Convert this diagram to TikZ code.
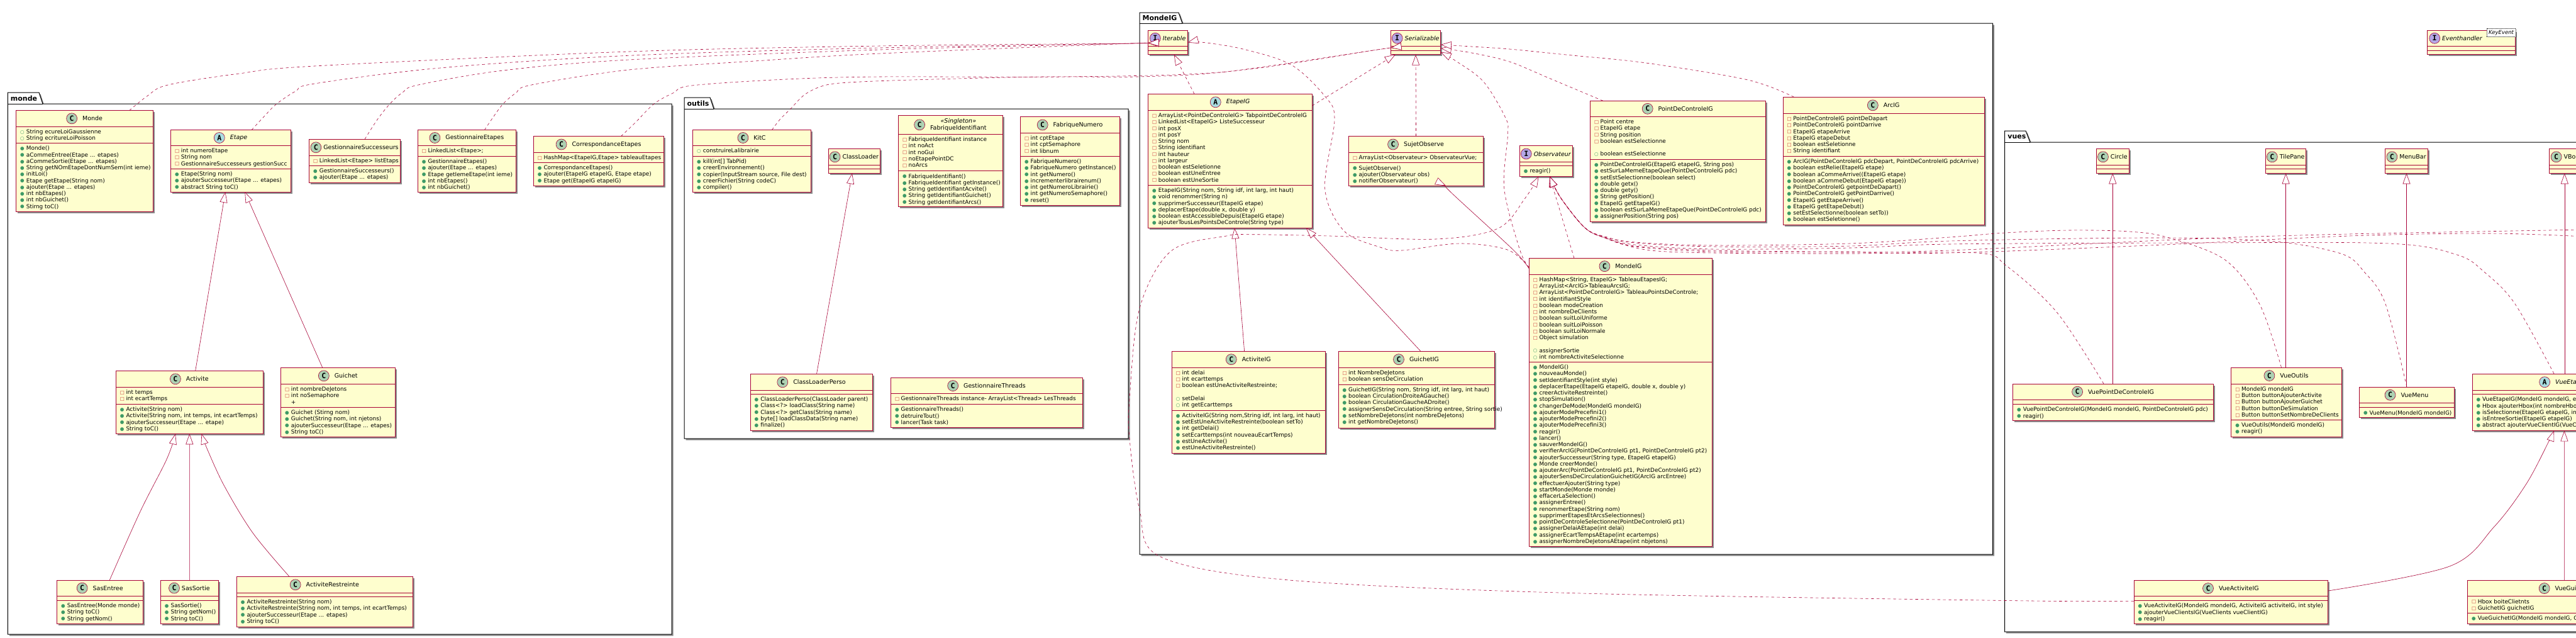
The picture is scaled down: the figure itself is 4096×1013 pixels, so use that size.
\documentclass[tikz,border=0pt]{standalone}
\usepackage{fontspec}
\setmainfont{DejaVu Sans}
\newfontfamily\iconfont{DejaVu Sans Mono}
\usetikzlibrary{arrows.meta,positioning,shadows}

\definecolor{umlred}{HTML}{A80036}
\definecolor{umlfill}{HTML}{FEFECE}
\definecolor{circC}{HTML}{ADD1B2}
\definecolor{circA}{HTML}{A9DCDF}
\definecolor{circI}{HTML}{B4A7E5}
\definecolor{pubgreen}{HTML}{3E9A66}
\definecolor{privred}{HTML}{C82930}

\newcommand{\memfont}{\fontsize{8.9}{10.25}\selectfont}
\newcommand{\rowicon}[2]{\strut\makebox[9.7pt][l]{\raisebox{.3pt}{\fontsize{7.5}{7.5}\selectfont\textcolor{#1}{#2}}}}
\newcommand{\mpub}{\rowicon{pubgreen}{●}}
\newcommand{\mpriv}{\rowicon{privred}{□}}
\newcommand{\mfield}{\rowicon{pubgreen}{○}}

\tikzset{
  pkgbox/.style={draw=black,fill=white,line width=1pt,drop shadow={shadow xshift=2.5pt,shadow yshift=-2.5pt,opacity=.45,fill=black}},
  pkgname/.style={anchor=west,inner sep=0pt,font=\fontsize{11}{11}\selectfont\bfseries},
  classbox/.style={draw=umlred,fill=umlfill,line width=1pt,inner sep=0pt,outer sep=0pt,drop shadow={shadow xshift=2.5pt,shadow yshift=-2.5pt,opacity=.45,fill=black}},
  classline/.style={draw=umlred,line width=1pt},
  members/.style={anchor=north west,inner sep=0pt,align=left,font=\memfont,xshift=6.3pt,yshift=-4pt},
  titleC/.style={inner sep=0pt,align=center,font=\fontsize{9.5}{11.7}\selectfont},
  titleA/.style={titleC,font=\fontsize{9.5}{11.7}\selectfont\itshape},
  titleI/.style={titleA},
  iconC/.style={circle,draw=umlred,line width=.6pt,minimum size=17pt,inner sep=0pt,fill=circC,font=\fontsize{11.5}{11.5}\selectfont\iconfont\bfseries},
  iconA/.style={iconC,fill=circA},
  iconI/.style={iconC,fill=circI},
  tagbox/.style={draw=black,fill=white,dashed,dash pattern=on 1pt off 1pt,line width=.5pt,inner sep=0pt,minimum width=46pt,minimum height=13.7pt,font=\fontsize{8.5}{8.5}\selectfont\itshape},
  extends/.style={draw=umlred,line width=.6pt,-{Triangle[length=17pt,width=12pt,fill=white]}},
  realizes/.style={extends,dash pattern=on 4.4pt off 4.4pt},
}

% name (x1,y1,x2,y2) (first line,second line) [C, A or I] title
\def\tgap{8}
\def\tshift{0}
\def\umlclass#1(#2,#3,#4,#5)(#6,#7)[#8]#9{%
  \node[classbox,minimum width=#4-#2,minimum height=#5-#3] (#1) at ({(#2+#4)/2},{(#3+#5)/2}) {};
  \draw[classline] (#2,#6) -- (#4,#6) (#2,#7) -- (#4,#7);
  \node[title#8] (#1Title) at ({(#2+#4)/2+(17+\tgap)/2+\tshift},{(#3+#6)/2}) {#9};
  \node[icon#8,left=\tgap pt of #1Title] (#1Icon) {#8};
  \coordinate (#1A) at (#2,#6);
  \coordinate (#1M) at (#2,#7);
}
\newcommand{\attrs}[2]{\node[members] (#1Attrs) at (#1A) {#2};}
\newcommand{\meths}[2]{\node[members] (#1Meths) at (#1M) {#2};}
\newcommand{\umlpackage}[9]{%
  \draw[pkgbox] (#2,#6) -- (#2,#3) -- (#4,#3) -- (#5,#6) -- (#7,#6) -- (#7,#8) -- (#2,#8) -- cycle;
  \draw[line width=1pt] (#2,#6) -- (#5,#6);
  \node[pkgname] (#1) at (#2+4.4,{(#3+#6)/2}) {#9};
}

\begin{document}
\begin{tikzpicture}[x=1pt,y=-1pt,smooth,tension=.55]
  \clip[use as bounding box] (0,0) rectangle (4096,1013);

  % packages
  \umlpackage{pkgMonde}{12.3}{147}{62}{68}{165}{1068}{1008}{monde}
  \umlpackage{pkgOutils}{1088}{155}{1129}{1135}{173}{1794}{697}{outils}
  \umlpackage{pkgMondeIG}{1812}{20}{1874}{1880}{37}{3168.6}{881}{MondeIG}
  \umlpackage{pkgVues}{3187.7}{208}{3221}{3228}{226}{4200}{1004}{vues}

  % monde
  \umlclass{monde}(25.7,175.7,243.5,336)(201,227.5)[C]{Monde}
  \attrs{monde}{\mfield String ecureLoiGaussienne\\\mfield String ecritureLoiPoisson}
  \meths{monde}{\mpub Monde()\\\mpub aCommeEntree(Etape ... etapes)\\\mpub aCommeSortie(Etape ... etapes)\\\mpub String getNOmEtapeDontNumSem(int ieme)\\\mpub initLoi()\\\mpub Etape getEtape(String nom)\\\mpub ajouter(Etape ... etapes)\\\mpub int nbEtapes()\\\mpub int nbGuichet()\\\mpub Stirng toC()}

  \umlclass{etape}(271.7,206.7,462.3,305)(231.3,268.3)[A]{Etape}
  \attrs{etape}{\mpriv int numeroEtape\\\mpriv String nom\\\mpriv GestionnaireSuccesseurs gestionSucc}
  \meths{etape}{\mpub Etape(String nom)\\\mpub ajouterSuccesseur(Etape ... etapes)\\\mpub abstract String toC()}

  \umlclass{gestEtapes}(664.3,206.7,820.3,305)(231.3,248.3)[C]{GestionnaireEtapes}
  \attrs{gestEtapes}{\mpriv LinkedList<Etape>;}
  \meths{gestEtapes}{\mpub GestionnaireEtapes()\\\mpub ajouter(Etape ... etapes)\\\mpub Etape getIemeEtape(int ieme)\\\mpub int nbEtapes()\\\mpub int nbGuichet()}

  \umlclass{correspondance}(848.3,216.7,1055.7,295.3)(242.3,258.3)[C]{CorrespondanceEtapes}
  \attrs{correspondance}{\mpriv HashMap<EtapeIG,Etape> tableauEtapes}
  \meths{correspondance}{\mpub CorrespondanceEtapes()\\\mpub ajouter(EtapeIG etapeIG, Etape etape)\\\mpub Etape get(EtapeIG etapeIG)}

  \umlclass{activite}(184.3,589.3,418.3,689.3)(615.3,642.3)[C]{Activite}
  \attrs{activite}{\mpriv int temps\\\mpriv int ecartTemps}
  \meths{activite}{\mpub Activite(String nom)\\\mpub Activite(String nom, int temps, int ecartTemps)\\\mpub ajouterSuccesseur(Etape ... etape)\\\mpub String toC()}

  \umlclass{guichet}(446.7,584.3,628.8,694.3)(610.3,647.3)[C]{Guichet}
  \attrs{guichet}{\mpriv int nombreDeJetons\\\mpriv int noSemaphore\\\strut\hspace{9.7pt}+}
  \meths{guichet}{\mpub Guichet (Stirng nom)\\\mpub Guichet(String nom, int njetons)\\\mpub ajouterSuccesseur(Etape ... etapes)\\\mpub String toC()}

  \umlclass{sasEntree}(90.6,922.3,227.7,991.7)(947,954.3)[C]{SasEntree}
  \meths{sasEntree}{\mpub SasEntree(Monde monde)\\\mpub String toC()\\\mpub String getNom()}

  \umlclass{restreinte}(376.3,916.3,656.3,996.3)(942.3,948.3)[C]{ActiviteRestreinte}
  \meths{restreinte}{\mpub ActiviteRestreinte(String nom)\\\mpub ActiviteRestreinte(String nom, int temps, int ecartTemps)\\\mpub ajouterSuccesseur(Etape ... etapes)\\\mpub String toC()}

  % outils
  \umlclass{kitC}(1101.7,206.7,1289.3,305)(231.3,248.3)[C]{KitC}
  \attrs{kitC}{\mfield construireLalibrairie}
  \meths{kitC}{\mpub kill(int[] TabPid)\\\mpub creerEnvironnement()\\\mpub copier(InputStream source, File dest)\\\mpub creerFichier(String codeC)\\\mpub compiler()}

  \umlclass{fabriqueId}(1428.5,183.3,1594.2,328.3)(213.3,271.7)[C]{{\itshape «Singleton»}\\FabriqueIdentifiant}
  \attrs{fabriqueId}{\mpriv FabriqueIdentifiant instance\\\mpriv int noAct\\\mpriv int noGui\\\mpriv noEtapePointDC\\\mpriv noArcs}
  \meths{fabriqueId}{\mpub FabriqueIdentifiant()\\\mpub FabriqueIdentifiant getInstance()\\\mpub String getIdentifiantAcvite()\\\mpub String getIdentifiantGuichet()\\\mpub String getIdentifiantArcs()}

  \umlclass{fabriqueNum}(1622.5,185.7,1780.5,326)(211.3,248.3)[C]{FabriqueNumero}
  \attrs{fabriqueNum}{\mpriv int cptEtape\\\mpriv int cptSemaphore\\\mpriv int libnum}
  \meths{fabriqueNum}{\mpub FabriqueNumero()\\\mpub FabriqueNumero getInstance()\\\mpub int getNumero()\\\mpub incrementerlibrairenum()\\\mpub int getNumeroLibrairie()\\\mpub int getNumeroSemaphore()\\\mpub reset()}

  \umlclass{loaderPerso}(1193.2,594.3,1387.8,684.2)(620.3,626.3)[C]{ClassLoaderPerso}
  \meths{loaderPerso}{\mpub ClassLoaderPerso(ClassLoader parent)\\\mpub Class<?> loadClass(String name)\\\mpub Class<?> getClass(String name)\\\mpub byte[] loadClassData(String name)\\\mpub finalize()}

  \umlclass{threads}(1416.5,600.5,1721.4,679.1)(625.6,642.4)[C]{GestionnaireThreads}
  \attrs{threads}{\mpriv GestionnaireThreads instance- ArrayList<Thread> LesThreads}
  \meths{threads}{\mpub GestionnaireThreads()\\\mpub detruireTout()\\\mpub lancer(Task task)}

  % MondeIG
  \umlclass{etapeIG}(1825.7,149.3,2086.4,362.3)(175.3,294.3)[A]{EtapeIG}
  \attrs{etapeIG}{\mpriv ArrayList<PointDeControleIG> TabpointDeControleIG\\\mpriv LinkedList<EtapeIG> ListeSuccesseur\\\mpriv int posX\\\mpriv int posY\\\mpriv String nom\\\mpriv String identifiant\\\mpriv int hauteur\\\mpriv int largeur\\\mpriv boolean estSeletionne\\\mpriv boolean estUneEntree\\\mpriv boolean estUneSortie}
  \meths{etapeIG}{\mpub EtapeIG(String nom, String idf, int larg, int haut)\\\mpub void renommer(String n)\\\mpub supprimerSuccesseur(EtapeIG etape)\\\mpub deplacerEtape(double x, double y)\\\mpub boolean estAccessibleDepuis(EtapeIG etape)\\\mpub ajouterTousLesPointsDeControle(String type)}

  \umlclass{sujet}(2144.5,216.7,2358.5,295.3)(242.3,258.7)[C]{SujetObserve}
  \attrs{sujet}{\mpriv ArrayList<Observateur> ObservateurVue;}
  \meths{sujet}{\mpub SujetObserve()\\\mpub ajouter(Observateur obs)\\\mpub notifierObservateur()}

  \umlclass{pdc}(2528.5,160.3,2807,352.3)(185.3,253.3)[C]{PointDeControleIG}
  \attrs{pdc}{\mpriv Point centre\\\mpriv EtapeIG etape\\\mpriv String position\\\mpriv boolean estSelectionne\\\strut\\\mfield boolean estSelectionne}
  \meths{pdc}{\mpub PointDeControleIG(EtapeIG etapeIG, String pos)\\\mpub estSurLaMemeEtapeQue(PointDeControleIG pdc)\\\mpub setEstSelectionne(boolean select)\\\mpub double getx()\\\mpub double gety()\\\mpub String getPosition()\\\mpub EtapeIG getEtapeIG()\\\mpub boolean estSurLaMemeEtapeQue(PointDeControleIG pdc)\\\mpub assignerPosition(String pos)}

  \umlclass{arcIG}(2835.2,154.3,3155,357.3)(180.3,248.3)[C]{ArcIG}
  \attrs{arcIG}{\mpriv PointDeControleIG pointDeDapart\\\mpriv PointDeControleIG pointDarrive\\\mpriv EtapeIG etapeArrive\\\mpriv EtapeIG etapeDebut\\\mpriv boolean estSeletionne\\\mpriv String identifiant}
  \meths{arcIG}{\mpub ArcIG(PointDeControleIG pdcDepart, PointDeControleIG pdcArrive)\\\mpub boolean estRelie(EtapeIG etape)\\\mpub boolean aCommeArrive((EtapeIG etape)\\\mpub boolean aCommeDebut(EtapeIG etape))\\\mpub PointDeControleIG getpointDeDapart()\\\mpub PointDeControleIG getPointDarrive()\\\mpub EtapeIG getEtapeArrive()\\\mpub EtapeIG getEtapeDebut()\\\mpub setEstSelectionne(boolean setTo))\\\mpub boolean estSeletionne()}

  \umlclass{mondeIG}(2431.4,410.3,2722.5,868.4)(436,575.2)[C]{MondeIG}
  \attrs{mondeIG}{\mpriv HashMap<String, EtapeIG> TableauEtapesIG;\\\mpriv ArrayList<ArcIG>TableauArcsIG;\\\mpriv ArrayList<PointDeControleIG> TableauPointsDeControle;\\\mpriv int identifiantStyle\\\mpriv boolean modeCreation\\\mpriv int nombreDeClients\\\mpriv boolean suitLoiUniforme\\\mpriv boolean suitLoiPoisson\\\mpriv boolean suitLoiNormale\\\mpriv Object simulation\\\strut\\\mfield assignerSortie\\\mfield int nombreActiviteSelectionne}
  \meths{mondeIG}{\mpub MondeIG()\\\mpub nouveauMonde()\\\mpub setIdentifiantStyle(int style)\\\mpub deplacerEtape(EtapeIG etapeIG, double x, double y)\\\mpub creerActiviteRestreinte()\\\mpub stopSimulation()\\\mpub changerDeMode(MondeIG mondeIG)\\\mpub ajouterModePrecefini1()\\\mpub ajouterModePrecefini2()\\\mpub ajouterModePrecefini3()\\\mpub reagir()\\\mpub lancer()\\\mpub sauverMondeIG()\\\mpub verifierArcIG(PointDeControleIG pt1, PointDeControleIG pt2)\\\mpub ajouterSuccesseur(String type, EtapeIG etapeIG)\\\mpub Monde creerMonde()\\\mpub ajouterArc(PointDeControleIG pt1, PointDeControleIG pt2)\\\mpub ajouterSensDeCirculationGuichetIG(ArcIG arcEntree)\\\mpub effectuerAjouter(String type)\\\mpub startMonde(Monde monde)\\\mpub effacerLaSelection()\\\mpub assignerEntree()\\\mpub renommerEtape(String nom)\\\mpub supprimerEtapesEtArcsSelectionnes()\\\mpub pointDeControleSelectionne(PointDeControleIG pt1)\\\mpub assignerDelaiAEtape(int delai)\\\mpub assignerEcartTempsAEtape(int ecartemps)\\\mpub assignerNombreDeJetonsAEtape(int nbjetons)}

  \umlclass{activiteIG}(1863.4,558.3,2107,720.6)(584.1,652.1)[C]{ActiviteIG}
  \attrs{activiteIG}{\mpriv int delai\\\mpriv int ecarttemps\\\mpriv boolean estUneActiviteRestreinte;\\\strut\\\mfield setDelai\\\mfield int getEcarttemps}
  \meths{activiteIG}{\mpub ActiviteIG(String nom,String idf, int larg, int haut)\\\mpub setEstUneActiviteRestreinte(boolean setTo)\\\mpub int getDelai()\\\mpub setEcarttemps(int nouveauEcartTemps)\\\mpub estUneActivite()\\\mpub estUneActiviteRestreinte()}

  \umlclass{guichetIG}(2128,558.3,2376,680)(584.1,611)[C]{GuichetIG}
  \attrs{guichetIG}{\mpriv int NombreDeJetons\\\mpriv boolean sensDeCirculation}
  \meths{guichetIG}{\mpub GuichetIG(String nom, String idf, int larg, int haut)\\\mpub boolean CirculationDroiteAGauche()\\\mpub boolean CirculationGaucheADroite()\\\mpub assignerSensDeCirculation(String entree, String sortie)\\\mpub setNombreDeJetons(int nombreDeJetons)\\\mpub int getNombreDeJetons()}

  % vues
  \umlclass{vuePdc}(3200.6,610,3519.4,668.4)(635.4,642.6)[C]{VuePointDeControleIG}
  \meths{vuePdc}{\mpub VuePointDeControleIG(MondeIG mondeIG, PointDeControleIG pdc)\\\mpub reagir()}

  \umlclass{vueOutils}(3547.9,584,3723,694.6)(610,667)[C]{VueOutils}
  \attrs{vueOutils}{\mpriv MondeIG mondeIG\\\mpriv Button buttonAjouterActivite\\\mpriv Button buttonAjouterGuichet\\\mpriv Button buttonDeSimulation\\\mpriv Button buttonSetNombreDeClients}
  \meths{vueOutils}{\mpub VueOutils(MondeIG mondeIG)\\\mpub reagir()}

  \umlclass{vueMenu}(3751.5,615,3902.3,663.3)(640.5,647.7)[C]{VueMenu}
  \meths{vueMenu}{\mpub VueMenu(MondeIG mondeIG)}

  \umlclass{vueActivite}(3393,922.5,3701.6,991.6)(947.7,954.5)[C]{VueActiviteIG}
  \meths{vueActivite}{\mpub VueActiviteIG(MondeIG mondeIG, ActiviteIG activiteIG, int style)\\\mpub ajouterVueClientsIG(VueClients vueClientIG)\\\mpub reagir()}

  % these run past the right edge, only what is seen of them
  \def\tshift{-12.5}
  \umlclass{vueEtape}(3931,594,4229,684.4)(620.5,626.6)[A]{VueEta}
  \meths{vueEtape}{\mpub VueEtapeIG(MondeIG mondeIG, e\\\mpub Hbox ajouterHbox(int nombreHbo\\\mpub isSelectionne(EtapeIG etapeIG, in\\\mpub isEntreeSortie(EtapeIG etapeIG)\\\mpub abstract ajouterVueClientIG(VueC}
  \def\tshift{-19.8}
  \umlclass{vueGuichet}(3923.6,922.5,4250,991.6)(947.7,974.2)[C]{VueGui}
  \attrs{vueGuichet}{\mpriv Hbox boiteClietnts\\\mpriv GuichetIG guichetIG}
  \meths{vueGuichet}{\mpub VueGuichetIG(MondeIG mondeIG, G}
  \def\tshift{0}

  % classes as narrow as their title
  \def\tgap{3}
  \umlclass{sasSortie}(255.4,922.3,347.3,991.7)(947,954.3)[C]{SasSortie}
  \meths{sasSortie}{\mpub SasSortie()\\\mpub String getNom()\\\mpub String toC()}
  \umlclass{gestSucc}(491.7,221.3,636.3,290)(247.3,263.3)[C]{GestionnaireSuccesseurs}
  \attrs{gestSucc}{\mpriv LinkedList<Etape> listEtaps}
  \meths{gestSucc}{\mpub GestionnaireSuccesseurs()\\\mpub ajouter(Etape ... etapes)}
  \umlclass{classLoader}(1317.3,236.3,1399.3,275.3)(262.3,268.3)[C]{ClassLoader}
  \umlclass{iterable}(1825.7,48.3,1888.5,86.7)(73.3,80.3)[I]{Iterable}
  \umlclass{serial}(2211.5,48.3,2290.7,86.7)(73.3,80.3)[I]{Serializable}
  \umlclass{observateur}(2416.3,231.7,2500.3,280.3)(257.3,263.3)[I]{Observateur}
  \meths{observateur}{\mpub reagir()}
  \umlclass{circleCls}(3333.2,236.3,3385.3,275.3)(262.3,268.3)[C]{Circle}
  \umlclass{tilePane}(3602.5,236.3,3666.7,275.3)(262.3,268.3)[C]{TilePane}
  \umlclass{menuBar}(3792.5,236.3,3860.5,275.3)(262.3,268.3)[C]{MenuBar}
  \def\tshift{-1.8}
  \umlclass{vbox}(4053,236.3,4102.6,275.3)(262.3,268.3)[C]{VBo}
  \def\tshift{-24.5}
  \umlclass{eventHandler}(3859.8,48.3,3999,86.7)(73.3,80.3)[I]{Eventhandler}
  \node[tagbox] (eventKey) at (3977,51.8) {KeyEvent};

  % inherits, solid
  \draw[extends] ([xshift=9.4pt]activite.north) -- ([xshift=-8.7pt]etape.south);
  \draw[extends] ([xshift=-25pt]guichet.north) -- ([xshift=22.3pt]etape.south);
  \draw[extends] plot coordinates{([xshift=15pt]sasEntree.north) (223,813) (265,730) ([xshift=-22.3pt]activite.south)};
  \draw[extends] (sasSortie.north) -- (activite.south);
  \draw[extends] plot coordinates{([xshift=-56.3pt]restreinte.north) (402,847) (357,773) (330,715) ([xshift=19.2pt]activite.south)};
  \draw[extends] ([xshift=8pt]loaderPerso.north) -- ([xshift=-3.3pt]classLoader.south);
  \draw[extends] ([xshift=-6.6pt]activiteIG.north) -- ([xshift=7pt]etapeIG.south);
  \draw[extends] ([xshift=7pt]guichetIG.north) -- ([xshift=120.8pt]etapeIG.south);
  \draw[extends] plot coordinates{([yshift=-17pt]mondeIG.north west) (2407,398) (2309.5,308) ([xshift=47.5pt]sujet.south)};
  \draw[extends] (circleCls.south |- vuePdc.north) -- (circleCls.south);
  \draw[extends] (tilePane.south |- vueOutils.north) -- (tilePane.south);
  \draw[extends] (menuBar.south |- vueMenu.north) -- (menuBar.south);
  \draw[extends] (vbox.south |- vueEtape.north) -- (vbox.south);
  \draw[extends] plot coordinates{([yshift=18pt]vueActivite.east) (3895,900) (3966,837) (4017,769) (4053,701) ([xshift=-19pt]vueEtape.south)};
  \draw[extends] ([xshift=-9.4pt]vueGuichet.north) -- ([xshift=-2.6pt]vueEtape.south);

  % implements, dashed, towards Iterable
  \draw[realizes] plot coordinates{([xshift=71pt]monde.north) (235,152) (267,135) (380,117) (500,105) (1000,82) (1400,73) (1800,69) ([yshift=-1pt]iterable.west)};
  \draw[realizes] plot coordinates{([xshift=33pt]etape.north) (420,185) (440,165) (470,145) (500,133) (700,108) (1000,88.3) (1400,76) (1800,69) ([yshift=-1pt]iterable.west)};
  \draw[realizes] plot coordinates{([xshift=16pt]gestSucc.north) (600,190) (620,165) (640,147) (665,135) (800,112) (1000,95) (1400,79) (1800,69) ([yshift=-1pt]iterable.west)};
  \draw[realizes] plot coordinates{([xshift=28pt]gestEtapes.north) (785,185) (800,165) (820,148) (845,135) (1000,111) (1200,97) (1400,85) (1800,69) ([yshift=-1pt]iterable.west)};
  \draw[realizes] ([xshift=-57pt]etapeIG.north) -- ([xshift=9.7pt]iterable.south);
  \draw[realizes] plot coordinates{([yshift=-15pt]mondeIG.north west) (2397,397) (2321,387) (2229,398) (2194.7,393) (2137,367) (2106.7,300) (2122,190) (2106.7,153) (2053,103) (1976.5,78) (1910,67) (iterable.east)};

  % towards Serializable
  \draw[realizes] plot coordinates{([xshift=35.3pt]correspondance.north) (1010,195) (1040,165) (1070,148) (1100,136) (1250,126) (1400,122) (1700,122) (1950,114) (2190,79) ([yshift=-8.5pt]serial.west)};
  \draw[realizes] plot coordinates{([xshift=31.8pt]kitC.north) (1240,190) (1257,173) (1280,150) (1310,136) (1350,131) (1450,127) (1656,122) (1809,122) (1950,114) (2190,79) ([yshift=-8.5pt]serial.west)};
  \draw[realizes] ([yshift=-18.7pt]etapeIG.north east) -- ([xshift=-32.3pt]serial.south);
  \draw[realizes] (sujet.north) -- (serial.south);
  \draw[realizes] plot coordinates{([yshift=-15pt]mondeIG.north west) (2416.6,397) (2391.8,300) (2397.5,213) (2393.7,187) (2359,130) (2315,97) ([yshift=-15.2pt]serial.east)};
  \draw[realizes] plot coordinates{([xshift=-118.75pt]pdc.north) (2465,125) (2400,98) (2340,84) ([yshift=-9.2pt]serial.east)};
  \draw[realizes] plot coordinates{([xshift=-142.5pt]arcIG.north) (2779,127) (2617,100) (2500,88) (2400,78) (2340,74) ([yshift=-3.5pt]serial.east)};

  % towards Observateur
  \draw[realizes] ([xshift=-74pt]mondeIG.north) -- ([xshift=5.7pt]observateur.south);
  \draw[realizes] plot coordinates{([yshift=1.5pt]vueActivite.west) (3192,954.5) (2500,942.6) (2050,922) (1845.5,885) (1812,810) (1796,697) (1796,634) (1812,490) (1862,399) (1950,375) (1988,372.7) (2114,375) (2282.7,380) (2382,363) (2425,315) ([xshift=-11.8pt]observateur.south)};
  \draw[realizes] plot coordinates{([xshift=-15pt]vuePdc.north) (3271,497) (3191,423) (3144,402) (2942,403) (2725,402) (2617,397) (2552,378) (2520,362) (2482,315) ([xshift=5.7pt]observateur.south)};
  \draw[realizes] plot coordinates{([xshift=-8pt]vueOutils.north) (3592.7,483) (3538,413) (3449,378) (3386,368) (3290,366) (3189,370) (3100,377) (2942,387) (2725,390) (2600,385) (2552,376) (2520,362) (2482,315) ([xshift=5.7pt]observateur.south)};
  \draw[realizes] plot coordinates{(vueMenu.north) (3793,483) (3760,433) (3722,403) (3608,383) (3418,378) (3100,383) (2942,391) (2725,392) (2600,386) (2552,377) (2520,362) (2482,315) ([xshift=5.7pt]observateur.south)};
  \draw[realizes] plot coordinates{([xshift=-19pt]vueEtape.north) (3999,483) (3951,433) (3907,405) (3799,387) (3480,386) (3100,388) (2942,394) (2725,396) (2600,389) (2552,378) (2520,362) (2482,315) ([xshift=5.7pt]observateur.south)};
  \coordinate (offA) at (4110,365);
  \coordinate (offB) at (4110,376);
  \draw[realizes] plot coordinates{(offA) (3735,372) (3481,380) (3100,398) (2942,400) (2725,398) (2600,391) (2552,378) (2520,362) (2482,315) ([xshift=5.7pt]observateur.south)};
  \draw[realizes] plot coordinates{(offB) (3958,371) (3735,375) (3418,390) (3100,402) (2942,401) (2725,400) (2600,392) (2552,378) (2520,362) (2482,315) ([xshift=5.7pt]observateur.south)};
\end{tikzpicture}
\end{document}
